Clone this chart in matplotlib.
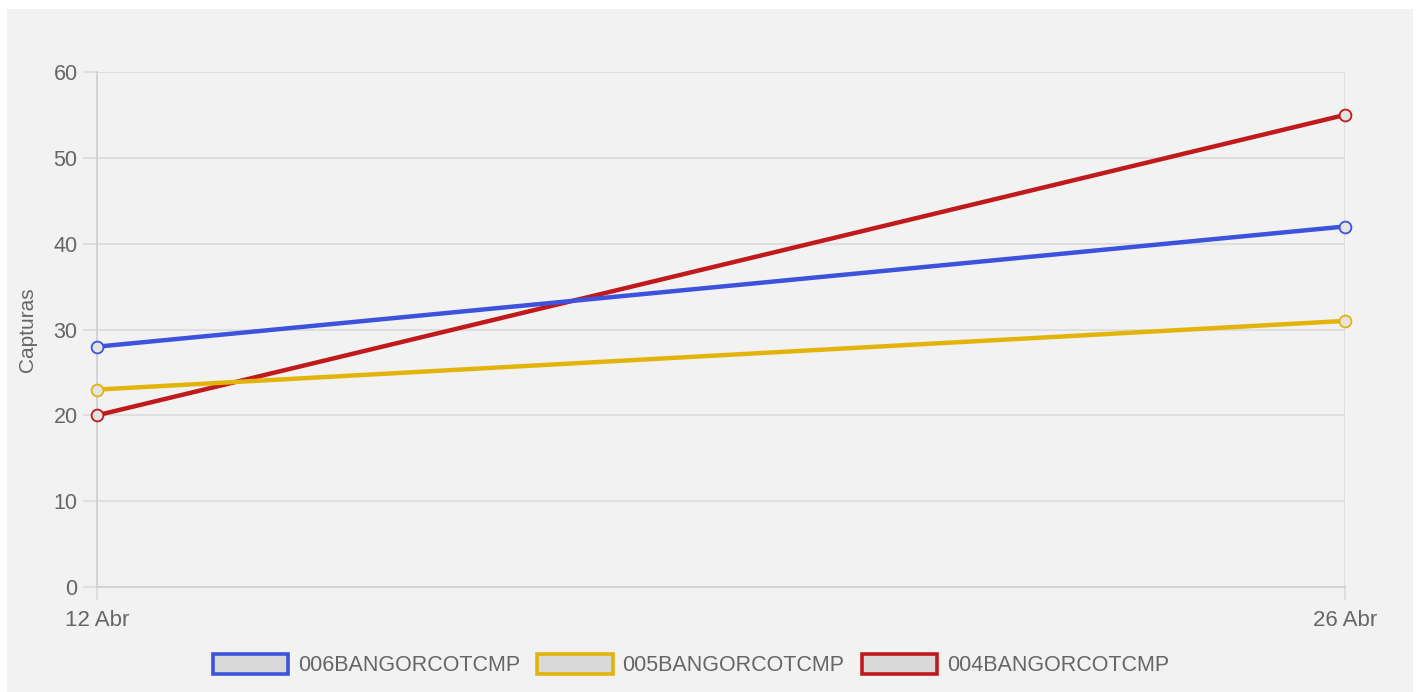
import matplotlib
matplotlib.use("Agg")
import matplotlib.pyplot as plt
from matplotlib.patches import Rectangle, Patch

# data
dates = ["12 Abr", "26 Abr"]
series_names = ["006BANGORCOTCMP", "005BANGORCOTCMP", "004BANGORCOTCMP"]
capt_006 = [28, 42]
capt_005 = [23, 31]
capt_004 = [20, 55]
colors = ["#3d52dd", "#e2b409", "#c01a1c"]
y_ticks = [0, 10, 20, 30, 40, 50, 60]

plt.rcParams["font.family"] = ["Liberation Sans", "DejaVu Sans"]
text_col = "#666666"
grid_col = "#dadada"

fig = plt.figure(figsize=(14.16, 6.92), dpi=100, facecolor="white")
# gray panel behind the chart
fig.patches.append(Rectangle((7 / 1416, 0), 1406 / 1416, 1 - 9 / 692,
                             transform=fig.transFigure, facecolor="#f2f2f2",
                             edgecolor="none", zorder=-10))

ax = fig.add_axes([97 / 1416, 1 - 587 / 692, 1248 / 1416, 515 / 692])
ax.set_facecolor("none")

x = list(range(len(dates)))
values = [capt_006, capt_005, capt_004]
# first series on top, like the reference
for i, (name, vals, c) in enumerate(zip(series_names, values, colors)):
    ax.plot(x, vals, color=c, lw=3.2, marker="o", ms=8.5, mew=1.3,
            mfc="#e4e4e4", mec=c, zorder=10 - i, label=name, clip_on=False)

ax.set_xlim(0, 1)
ax.set_ylim(0, 60)
ax.set_xticks(x)
ax.set_xticklabels(dates)
ax.set_yticks(y_ticks)
ax.grid(True, color=grid_col, lw=1.2, zorder=0)
ax.set_axisbelow(True)
for s in ["top", "right"]:
    ax.spines[s].set_visible(False)
for s in ["left", "bottom"]:
    ax.spines[s].set_color("#cfcfcf")
    ax.spines[s].set_linewidth(1.2)
ax.tick_params(axis="y", length=10, width=1.2, color=grid_col, pad=4,
               labelsize=15.5, labelcolor=text_col)
ax.tick_params(axis="x", length=9.5, width=1.2, color=grid_col, pad=7,
               labelsize=16, labelcolor=text_col)

ax.set_ylabel("Capturas", fontsize=15, color=text_col)
ax.yaxis.set_label_coords(-0.048, 0.5)

handles = [Patch(facecolor="#d9d9d9", edgecolor=c, linewidth=2.6) for c in colors]
fig.legend(handles, series_names, loc="center", bbox_to_anchor=(691 / 1416, 1 - 665 / 692),
           ncol=3, frameon=False, fontsize=15.5, labelcolor=text_col,
           handlelength=3.5, handleheight=1.1, handletextpad=0.45, columnspacing=0.8)

plt.savefig("out.png", dpi=100, facecolor="white")
